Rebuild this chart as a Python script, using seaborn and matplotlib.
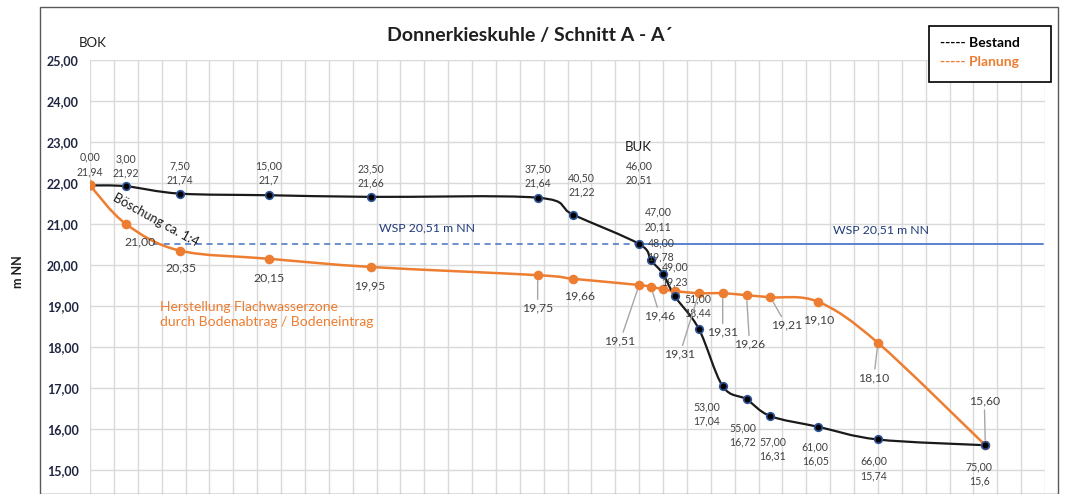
import matplotlib
matplotlib.use("Agg")
import matplotlib.pyplot as plt
import seaborn as sns
from matplotlib.path import Path
from matplotlib.patches import PathPatch, Rectangle

# Bestand (Ist-Gelaende)
bestand_x = [0.0, 3.0, 7.5, 15.0, 23.5, 37.5, 40.5, 46.0, 47.0, 48.0, 49.0,
             51.0, 53.0, 55.0, 57.0, 61.0, 66.0, 75.0]
bestand_y = [21.94, 21.92, 21.74, 21.70, 21.66, 21.64, 21.22, 20.51, 20.11,
             19.78, 19.23, 18.44, 17.04, 16.72, 16.31, 16.05, 15.74, 15.60]
bestand_lbl_x = ["0,00", "3,00", "7,50", "15,00", "23,50", "37,50", "40,50",
                 "46,00", "47,00", "48,00", "49,00", "51,00", "53,00", "55,00",
                 "57,00", "61,00", "66,00", "75,00"]
bestand_lbl_y = ["21,94", "21,92", "21,74", "21,7", "21,66", "21,64", "21,22",
                 "20,51", "20,11", "19,78", "19,23", "18,44", "17,04", "16,72",
                 "16,31", "16,05", "15,74", "15,6"]

# Planung
planung_x = [0.0, 3.0, 7.5, 15.0, 23.5, 37.5, 40.5, 46.0, 47.0, 48.0, 49.0,
             51.0, 53.0, 55.0, 57.0, 61.0, 66.0, 75.0]
planung_y = [21.94, 21.00, 20.35, 20.15, 19.95, 19.75, 19.66, 19.51, 19.46,
             19.41, 19.36, 19.31, 19.31, 19.26, 19.21, 19.10, 18.10, 15.60]
planung_lbl = ["", "21,00", "20,35", "20,15", "19,95", "19,75", "19,66",
               "19,51", "19,46", "", "", "19,31", "19,31", "19,26", "19,21",
               "19,10", "18,10", "15,60"]

# Wasserspiegel
wsp = 20.51
wsp_dashed_x = [5.3, 46.0]
wsp_solid_x = [46.0, 79.8]

# label offsets in pixels (dx, dy up)
bestand_off = [(0, 21), (0, 20), (0, 21), (0, 22), (0, 21), (0, 22), (8, 30),
               (0, 71), (7, 41), (-2, 24), (0, 22), (-1, 23), (-16, -28),
               (-4, -36), (2, -33), (-3, -27), (-4, -29), (-6, -29)]
planung_off = [(0, 0), (14, -18), (1, -17), (0, -19), (-1, -19), (0, -33),
               (6, -17), (-19, -56), (9, -29), (0, 0), (0, 0), (-19, -61),
               (0, -39), (3, -49), (16, -28), (0, -18), (-4, -35), (-1, 44)]
planung_leader = [False, False, False, False, False, True, False, True, True,
                  False, False, True, True, True, True, False, True, True]

BLACK = "#1a1a1a"
ORANGE = "#ED7D31"
BLUE = "#4472C4"
LBL = "#404040"

sns.set_theme(style="whitegrid")
plt.rcParams["font.family"] = ["Lato", "DejaVu Sans"]

W, H = 1067, 494
fig = plt.figure(figsize=(W / 100, H / 100), dpi=100)
ax = fig.add_axes([90 / W, 0, 955 / W, 434 / H])


def px(x, y):
    return x / W, 1 - y / H


def smooth_path(xs, ys):
    # Excel-like smoothed line (Catmull-Rom as cubic Bezier)
    pts = list(zip(xs, ys))
    verts = [pts[0]]
    codes = [Path.MOVETO]
    n = len(pts)
    for i in range(n - 1):
        p0 = pts[i - 1] if i > 0 else pts[i]
        p1 = pts[i]
        p2 = pts[i + 1]
        p3 = pts[i + 2] if i + 2 < n else pts[i + 1]
        c1 = (p1[0] + (p2[0] - p0[0]) / 6, p1[1] + (p2[1] - p0[1]) / 6)
        c2 = (p2[0] - (p3[0] - p1[0]) / 6, p2[1] - (p3[1] - p1[1]) / 6)
        verts += [c1, c2, p2]
        codes += [Path.CURVE4] * 3
    return Path(verts, codes)


ax.set_xlim(0, 80)
ax.set_ylim(14.41, 25)
ax.set_xticks(range(0, 81, 2))
ax.set_yticks(range(15, 26))
ax.set_xticklabels([])
ax.set_yticklabels([f"{v},00" for v in range(15, 26)], fontsize=9,
                   fontweight="bold", color="#1f2540")
ax.tick_params(length=0, pad=8)
ax.grid(True, color="#d9d9d9", linewidth=1.0)
for s in ax.spines.values():
    s.set_visible(False)

# water level
ax.plot(wsp_dashed_x, [wsp, wsp], color=BLUE, lw=1.1, ls=(0, (4, 3)), zorder=2)
ax.plot(wsp_solid_x, [wsp, wsp], color="#5a82cc", lw=1.4, zorder=2)

# lines
ax.add_patch(PathPatch(smooth_path(planung_x, planung_y), fc="none",
                       ec=ORANGE, lw=1.8, zorder=3))
ax.add_patch(PathPatch(smooth_path(bestand_x, bestand_y), fc="none",
                       ec=BLACK, lw=1.6, zorder=4))

# markers
sns.scatterplot(x=bestand_x, y=bestand_y, ax=ax, s=30, color="black",
                edgecolor="#2F5597", linewidth=1.2, zorder=5)
sns.scatterplot(x=planung_x[:1], y=planung_y[:1], ax=ax, s=55, color=ORANGE,
                edgecolor=ORANGE, linewidth=0, zorder=6)
sns.scatterplot(x=planung_x[1:], y=planung_y[1:], ax=ax, s=48, color=ORANGE,
                edgecolor=ORANGE, linewidth=0, zorder=4.5)

# data labels
for x, y, lx, ly, (dx, dy) in zip(bestand_x, bestand_y, bestand_lbl_x,
                                  bestand_lbl_y, bestand_off):
    ax.annotate(f"{lx}\n{ly}", (x, y), xytext=(dx, dy),
                textcoords="offset pixels", ha="center", va="center",
                fontsize=7.6, color=LBL, linespacing=1.35, zorder=7)

for x, y, t, (dx, dy), lead in zip(planung_x, planung_y, planung_lbl,
                                   planung_off, planung_leader):
    if not t:
        continue
    arrow = None
    if lead:
        arrow = dict(arrowstyle="-", color="#a6a6a6", lw=1.0,
                     shrinkA=0, shrinkB=4)
    ax.annotate(t, (x, y), xytext=(dx, dy), textcoords="offset pixels",
                ha="center", va="center", fontsize=8.8, color=LBL,
                arrowprops=arrow, zorder=7)

# annotations in plot
ax.text(24.2, 20.9, "WSP 20,51 m NN", fontsize=8.8, color="#1f3a7a",
        ha="left", va="center")
ax.text(62.2, 20.85, "WSP 20,51 m NN", fontsize=8.8, color="#1f3a7a",
        ha="left", va="center")
ax.text(5.5, 21.09, "Böschung ca. 1:4", fontsize=9.3, color=BLACK,
        rotation=-29, ha="center", va="center", rotation_mode="anchor")
ax.text(5.9, 19.12, "Herstellung Flachwasserzone\ndurch Bodenabtrag / Bodeneintrag",
        fontsize=10, color=ORANGE, ha="left", va="top", linespacing=1.3)

# figure level texts
fig.text(*px(530, 35), "Donnerkieskuhle / Schnitt A - A´", fontsize=14,
         fontweight="bold", color="#1f1f1f", ha="center", va="center")
fig.text(*px(93, 43), "BOK", fontsize=9.5, color="#1f1f1f", ha="center", va="center")
fig.text(*px(638, 147), "BUK", fontsize=9.5, color="#1f1f1f", ha="center", va="center")
fig.text(*px(18, 272), "m NN", fontsize=9, fontweight="bold", rotation=90,
         color="#1f1f1f", ha="center", va="center")

# chart frame
fig.patches.append(Rectangle(px(40, 494), 1018 / W, 487 / H,
                             transform=fig.transFigure, fill=False,
                             ec="#595959", lw=1.0, zorder=0))

# legend box
fig.patches.append(Rectangle(px(929, 82), 122 / W, 56 / H,
                             transform=fig.transFigure, fc="white",
                             ec="black", lw=1.2, zorder=10))
fig.text(*px(940, 43), "----- Bestand", fontsize=10, fontweight="bold",
         color="black", ha="left", va="center", zorder=11)
fig.text(*px(940, 62), "----- Planung", fontsize=10, fontweight="bold",
         color=ORANGE, ha="left", va="center", zorder=11)

fig.savefig("out.png", dpi=100)
